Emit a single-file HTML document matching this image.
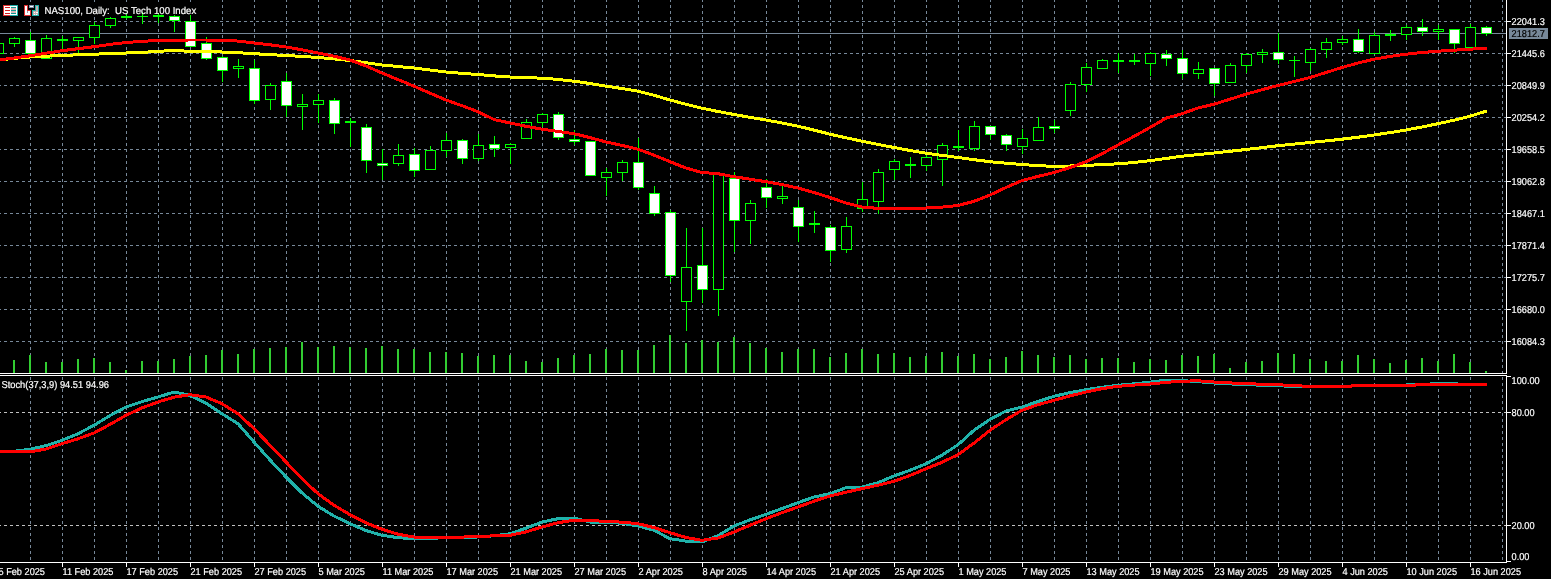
<!DOCTYPE html>
<html><head><meta charset="utf-8"><title>NAS100 Daily</title>
<style>html,body{margin:0;padding:0;background:#000;overflow:hidden}svg{display:block}</style>
</head><body>
<svg width="1551" height="579" viewBox="0 0 1551 579" shape-rendering="crispEdges">
<rect width="1551" height="579" fill="#000"/>
<g stroke="#778899" stroke-width="1" stroke-dasharray="3 3" fill="none">
<path d="M30.5 -1V373"/>
<path d="M30.5 371V562"/>
<path d="M62.5 -1V373"/>
<path d="M62.5 371V562"/>
<path d="M94.5 -1V373"/>
<path d="M94.5 371V562"/>
<path d="M126.5 -1V373"/>
<path d="M126.5 371V562"/>
<path d="M158.5 -1V373"/>
<path d="M158.5 371V562"/>
<path d="M190.5 -1V373"/>
<path d="M190.5 371V562"/>
<path d="M222.5 -1V373"/>
<path d="M222.5 371V562"/>
<path d="M254.5 -1V373"/>
<path d="M254.5 371V562"/>
<path d="M286.5 -1V373"/>
<path d="M286.5 371V562"/>
<path d="M318.5 -1V373"/>
<path d="M318.5 371V562"/>
<path d="M350.5 -1V373"/>
<path d="M350.5 371V562"/>
<path d="M382.5 -1V373"/>
<path d="M382.5 371V562"/>
<path d="M414.5 -1V373"/>
<path d="M414.5 371V562"/>
<path d="M446.5 -1V373"/>
<path d="M446.5 371V562"/>
<path d="M478.5 -1V373"/>
<path d="M478.5 371V562"/>
<path d="M510.5 -1V373"/>
<path d="M510.5 371V562"/>
<path d="M542.5 -1V373"/>
<path d="M542.5 371V562"/>
<path d="M574.5 -1V373"/>
<path d="M574.5 371V562"/>
<path d="M606.5 -1V373"/>
<path d="M606.5 371V562"/>
<path d="M638.5 -1V373"/>
<path d="M638.5 371V562"/>
<path d="M670.5 -1V373"/>
<path d="M670.5 371V562"/>
<path d="M702.5 -1V373"/>
<path d="M702.5 371V562"/>
<path d="M734.5 -1V373"/>
<path d="M734.5 371V562"/>
<path d="M766.5 -1V373"/>
<path d="M766.5 371V562"/>
<path d="M798.5 -1V373"/>
<path d="M798.5 371V562"/>
<path d="M830.5 -1V373"/>
<path d="M830.5 371V562"/>
<path d="M862.5 -1V373"/>
<path d="M862.5 371V562"/>
<path d="M894.5 -1V373"/>
<path d="M894.5 371V562"/>
<path d="M926.5 -1V373"/>
<path d="M926.5 371V562"/>
<path d="M958.5 -1V373"/>
<path d="M958.5 371V562"/>
<path d="M990.5 -1V373"/>
<path d="M990.5 371V562"/>
<path d="M1022.5 -1V373"/>
<path d="M1022.5 371V562"/>
<path d="M1054.5 -1V373"/>
<path d="M1054.5 371V562"/>
<path d="M1086.5 -1V373"/>
<path d="M1086.5 371V562"/>
<path d="M1118.5 -1V373"/>
<path d="M1118.5 371V562"/>
<path d="M1150.5 -1V373"/>
<path d="M1150.5 371V562"/>
<path d="M1182.5 -1V373"/>
<path d="M1182.5 371V562"/>
<path d="M1214.5 -1V373"/>
<path d="M1214.5 371V562"/>
<path d="M1246.5 -1V373"/>
<path d="M1246.5 371V562"/>
<path d="M1278.5 -1V373"/>
<path d="M1278.5 371V562"/>
<path d="M1310.5 -1V373"/>
<path d="M1310.5 371V562"/>
<path d="M1342.5 -1V373"/>
<path d="M1342.5 371V562"/>
<path d="M1374.5 -1V373"/>
<path d="M1374.5 371V562"/>
<path d="M1406.5 -1V373"/>
<path d="M1406.5 371V562"/>
<path d="M1438.5 -1V373"/>
<path d="M1438.5 371V562"/>
<path d="M1470.5 -1V373"/>
<path d="M1470.5 371V562"/>
<path d="M1502.5 -1V373"/>
<path d="M1502.5 371V562"/>
<path d="M-2 21.5H1506"/>
<path d="M-2 53.5H1506"/>
<path d="M-2 85.5H1506"/>
<path d="M-2 117.5H1506"/>
<path d="M-2 149.5H1506"/>
<path d="M-2 181.5H1506"/>
<path d="M-2 213.5H1506"/>
<path d="M-2 245.5H1506"/>
<path d="M-2 277.5H1506"/>
<path d="M-2 309.5H1506"/>
<path d="M-2 341.5H1506"/>
</g>
<g stroke="#c0c0c0" stroke-width="1" stroke-dasharray="3 3" fill="none">
<path d="M-2 412.5H1506"/>
<path d="M-2 525.5H1506"/>
</g>
<rect x="0" y="3" width="198" height="14" fill="#000"/>
<rect x="0" y="380" width="110" height="9" fill="#000"/>
<rect x="0" y="33" width="1506" height="1" fill="#778899"/>
<g fill="#32cd32">
<rect x="13" y="360" width="2" height="13"/>
<rect x="29" y="355" width="2" height="18"/>
<rect x="45" y="362" width="2" height="11"/>
<rect x="61" y="362" width="2" height="11"/>
<rect x="77" y="359" width="2" height="14"/>
<rect x="93" y="358" width="2" height="15"/>
<rect x="109" y="362" width="2" height="11"/>
<rect x="125" y="370" width="2" height="3"/>
<rect x="141" y="361" width="2" height="12"/>
<rect x="157" y="361" width="2" height="12"/>
<rect x="173" y="359" width="2" height="14"/>
<rect x="189" y="356" width="2" height="17"/>
<rect x="205" y="355" width="2" height="18"/>
<rect x="221" y="350" width="2" height="23"/>
<rect x="237" y="354" width="2" height="19"/>
<rect x="253" y="349" width="2" height="24"/>
<rect x="269" y="348" width="2" height="25"/>
<rect x="285" y="347" width="2" height="26"/>
<rect x="301" y="342" width="2" height="31"/>
<rect x="317" y="347" width="2" height="26"/>
<rect x="333" y="346" width="2" height="27"/>
<rect x="349" y="347" width="2" height="26"/>
<rect x="365" y="348" width="2" height="25"/>
<rect x="381" y="346" width="2" height="27"/>
<rect x="397" y="349" width="2" height="24"/>
<rect x="413" y="349" width="2" height="24"/>
<rect x="429" y="352" width="2" height="21"/>
<rect x="445" y="352" width="2" height="21"/>
<rect x="461" y="353" width="2" height="20"/>
<rect x="477" y="356" width="2" height="17"/>
<rect x="493" y="355" width="2" height="18"/>
<rect x="509" y="355" width="2" height="18"/>
<rect x="525" y="361" width="2" height="12"/>
<rect x="541" y="362" width="2" height="11"/>
<rect x="557" y="358" width="2" height="15"/>
<rect x="573" y="355" width="2" height="18"/>
<rect x="589" y="354" width="2" height="19"/>
<rect x="605" y="349" width="2" height="24"/>
<rect x="621" y="350" width="2" height="23"/>
<rect x="637" y="350" width="2" height="23"/>
<rect x="653" y="345" width="2" height="28"/>
<rect x="669" y="335" width="2" height="38"/>
<rect x="685" y="343" width="2" height="30"/>
<rect x="701" y="340" width="2" height="33"/>
<rect x="717" y="342" width="2" height="31"/>
<rect x="733" y="337" width="2" height="36"/>
<rect x="749" y="343" width="2" height="30"/>
<rect x="765" y="348" width="2" height="25"/>
<rect x="781" y="352" width="2" height="21"/>
<rect x="797" y="349" width="2" height="24"/>
<rect x="813" y="349" width="2" height="24"/>
<rect x="829" y="357" width="2" height="16"/>
<rect x="845" y="353" width="2" height="20"/>
<rect x="861" y="349" width="2" height="24"/>
<rect x="877" y="354" width="2" height="19"/>
<rect x="893" y="353" width="2" height="20"/>
<rect x="909" y="357" width="2" height="16"/>
<rect x="925" y="356" width="2" height="17"/>
<rect x="941" y="352" width="2" height="21"/>
<rect x="957" y="356" width="2" height="17"/>
<rect x="973" y="354" width="2" height="19"/>
<rect x="989" y="359" width="2" height="14"/>
<rect x="1005" y="357" width="2" height="16"/>
<rect x="1021" y="351" width="2" height="22"/>
<rect x="1037" y="355" width="2" height="18"/>
<rect x="1053" y="357" width="2" height="16"/>
<rect x="1069" y="355" width="2" height="18"/>
<rect x="1085" y="359" width="2" height="14"/>
<rect x="1101" y="358" width="2" height="15"/>
<rect x="1117" y="358" width="2" height="15"/>
<rect x="1133" y="362" width="2" height="11"/>
<rect x="1149" y="359" width="2" height="14"/>
<rect x="1165" y="360" width="2" height="13"/>
<rect x="1181" y="355" width="2" height="18"/>
<rect x="1197" y="356" width="2" height="17"/>
<rect x="1213" y="354" width="2" height="19"/>
<rect x="1229" y="368" width="2" height="5"/>
<rect x="1245" y="362" width="2" height="11"/>
<rect x="1261" y="361" width="2" height="12"/>
<rect x="1277" y="353" width="2" height="20"/>
<rect x="1293" y="354" width="2" height="19"/>
<rect x="1309" y="359" width="2" height="14"/>
<rect x="1325" y="361" width="2" height="12"/>
<rect x="1341" y="361" width="2" height="12"/>
<rect x="1357" y="355" width="2" height="18"/>
<rect x="1373" y="359" width="2" height="14"/>
<rect x="1389" y="363" width="2" height="10"/>
<rect x="1405" y="360" width="2" height="13"/>
<rect x="1421" y="358" width="2" height="15"/>
<rect x="1437" y="361" width="2" height="12"/>
<rect x="1453" y="354" width="2" height="19"/>
<rect x="1469" y="362" width="2" height="11"/>
<rect x="1485" y="371" width="2" height="2"/>
</g>
<g>
<rect x="-2" y="43" width="1" height="11" fill="#00ff00"/>
<rect x="-7" y="43" width="11" height="11" fill="#00ff00"/>
<rect x="-6" y="44" width="9" height="9" fill="#000"/>
<rect x="14" y="37" width="1" height="10" fill="#00ff00"/>
<rect x="9" y="38" width="11" height="6" fill="#00ff00"/>
<rect x="10" y="39" width="9" height="4" fill="#000"/>
<rect x="30" y="32" width="1" height="22" fill="#00ff00"/>
<rect x="25" y="40" width="11" height="14" fill="#00ff00"/>
<rect x="26" y="41" width="9" height="12" fill="#fff"/>
<rect x="46" y="35" width="1" height="24" fill="#00ff00"/>
<rect x="41" y="38" width="11" height="21" fill="#00ff00"/>
<rect x="42" y="39" width="9" height="19" fill="#000"/>
<rect x="62" y="36" width="1" height="13" fill="#00ff00"/>
<rect x="57" y="39" width="11" height="2" fill="#00ff00"/>
<rect x="78" y="37" width="1" height="16" fill="#00ff00"/>
<rect x="73" y="37" width="11" height="4" fill="#00ff00"/>
<rect x="74" y="38" width="9" height="2" fill="#000"/>
<rect x="94" y="22" width="1" height="22" fill="#00ff00"/>
<rect x="89" y="25" width="11" height="13" fill="#00ff00"/>
<rect x="90" y="26" width="9" height="11" fill="#000"/>
<rect x="110" y="17" width="1" height="11" fill="#00ff00"/>
<rect x="105" y="18" width="11" height="8" fill="#00ff00"/>
<rect x="106" y="19" width="9" height="6" fill="#000"/>
<rect x="126" y="14" width="1" height="5" fill="#00ff00"/>
<rect x="121" y="16" width="11" height="2" fill="#00ff00"/>
<rect x="142" y="12" width="1" height="12" fill="#00ff00"/>
<rect x="137" y="16" width="11" height="1" fill="#00ff00"/>
<rect x="158" y="13" width="1" height="10" fill="#00ff00"/>
<rect x="153" y="15" width="11" height="2" fill="#00ff00"/>
<rect x="174" y="15" width="1" height="17" fill="#00ff00"/>
<rect x="169" y="16" width="11" height="5" fill="#00ff00"/>
<rect x="170" y="17" width="9" height="3" fill="#fff"/>
<rect x="190" y="15" width="1" height="31" fill="#00ff00"/>
<rect x="185" y="21" width="11" height="26" fill="#00ff00"/>
<rect x="186" y="22" width="9" height="24" fill="#fff"/>
<rect x="206" y="37" width="1" height="23" fill="#00ff00"/>
<rect x="201" y="43" width="11" height="16" fill="#00ff00"/>
<rect x="202" y="44" width="9" height="14" fill="#fff"/>
<rect x="222" y="56" width="1" height="26" fill="#00ff00"/>
<rect x="217" y="57" width="11" height="14" fill="#00ff00"/>
<rect x="218" y="58" width="9" height="12" fill="#fff"/>
<rect x="238" y="59" width="1" height="19" fill="#00ff00"/>
<rect x="233" y="66" width="11" height="3" fill="#00ff00"/>
<rect x="234" y="67" width="9" height="1" fill="#000"/>
<rect x="254" y="60" width="1" height="44" fill="#00ff00"/>
<rect x="249" y="68" width="11" height="33" fill="#00ff00"/>
<rect x="250" y="69" width="9" height="31" fill="#fff"/>
<rect x="270" y="83" width="1" height="27" fill="#00ff00"/>
<rect x="265" y="85" width="11" height="15" fill="#00ff00"/>
<rect x="266" y="86" width="9" height="13" fill="#000"/>
<rect x="286" y="73" width="1" height="44" fill="#00ff00"/>
<rect x="281" y="81" width="11" height="25" fill="#00ff00"/>
<rect x="282" y="82" width="9" height="23" fill="#fff"/>
<rect x="302" y="94" width="1" height="36" fill="#00ff00"/>
<rect x="297" y="104" width="11" height="3" fill="#00ff00"/>
<rect x="298" y="105" width="9" height="1" fill="#000"/>
<rect x="318" y="94" width="1" height="29" fill="#00ff00"/>
<rect x="313" y="100" width="11" height="5" fill="#00ff00"/>
<rect x="314" y="101" width="9" height="3" fill="#000"/>
<rect x="334" y="98" width="1" height="36" fill="#00ff00"/>
<rect x="329" y="100" width="11" height="24" fill="#00ff00"/>
<rect x="330" y="101" width="9" height="22" fill="#fff"/>
<rect x="350" y="118" width="1" height="29" fill="#00ff00"/>
<rect x="345" y="121" width="11" height="2" fill="#00ff00"/>
<rect x="366" y="124" width="1" height="49" fill="#00ff00"/>
<rect x="361" y="127" width="11" height="34" fill="#00ff00"/>
<rect x="362" y="128" width="9" height="32" fill="#fff"/>
<rect x="382" y="149" width="1" height="31" fill="#00ff00"/>
<rect x="377" y="163" width="11" height="3" fill="#00ff00"/>
<rect x="378" y="164" width="9" height="1" fill="#fff"/>
<rect x="398" y="144" width="1" height="22" fill="#00ff00"/>
<rect x="393" y="155" width="11" height="9" fill="#00ff00"/>
<rect x="394" y="156" width="9" height="7" fill="#000"/>
<rect x="414" y="148" width="1" height="29" fill="#00ff00"/>
<rect x="409" y="154" width="11" height="17" fill="#00ff00"/>
<rect x="410" y="155" width="9" height="15" fill="#fff"/>
<rect x="430" y="146" width="1" height="23" fill="#00ff00"/>
<rect x="425" y="150" width="11" height="20" fill="#00ff00"/>
<rect x="426" y="151" width="9" height="18" fill="#000"/>
<rect x="446" y="133" width="1" height="24" fill="#00ff00"/>
<rect x="441" y="140" width="11" height="11" fill="#00ff00"/>
<rect x="442" y="141" width="9" height="9" fill="#000"/>
<rect x="462" y="139" width="1" height="25" fill="#00ff00"/>
<rect x="457" y="140" width="11" height="19" fill="#00ff00"/>
<rect x="458" y="141" width="9" height="17" fill="#fff"/>
<rect x="478" y="134" width="1" height="27" fill="#00ff00"/>
<rect x="473" y="145" width="11" height="14" fill="#00ff00"/>
<rect x="474" y="146" width="9" height="12" fill="#000"/>
<rect x="494" y="136" width="1" height="21" fill="#00ff00"/>
<rect x="489" y="144" width="11" height="5" fill="#00ff00"/>
<rect x="490" y="145" width="9" height="3" fill="#fff"/>
<rect x="510" y="143" width="1" height="21" fill="#00ff00"/>
<rect x="505" y="144" width="11" height="4" fill="#00ff00"/>
<rect x="506" y="145" width="9" height="2" fill="#000"/>
<rect x="526" y="119" width="1" height="20" fill="#00ff00"/>
<rect x="521" y="122" width="11" height="17" fill="#00ff00"/>
<rect x="522" y="123" width="9" height="15" fill="#000"/>
<rect x="542" y="113" width="1" height="14" fill="#00ff00"/>
<rect x="537" y="114" width="11" height="9" fill="#00ff00"/>
<rect x="538" y="115" width="9" height="7" fill="#000"/>
<rect x="558" y="112" width="1" height="28" fill="#00ff00"/>
<rect x="553" y="114" width="11" height="24" fill="#00ff00"/>
<rect x="554" y="115" width="9" height="22" fill="#fff"/>
<rect x="574" y="130" width="1" height="15" fill="#00ff00"/>
<rect x="569" y="139" width="11" height="3" fill="#00ff00"/>
<rect x="570" y="140" width="9" height="1" fill="#fff"/>
<rect x="590" y="141" width="1" height="34" fill="#00ff00"/>
<rect x="585" y="141" width="11" height="35" fill="#00ff00"/>
<rect x="586" y="142" width="9" height="33" fill="#fff"/>
<rect x="606" y="168" width="1" height="28" fill="#00ff00"/>
<rect x="601" y="172" width="11" height="6" fill="#00ff00"/>
<rect x="602" y="173" width="9" height="4" fill="#000"/>
<rect x="622" y="160" width="1" height="21" fill="#00ff00"/>
<rect x="617" y="162" width="11" height="11" fill="#00ff00"/>
<rect x="618" y="163" width="9" height="9" fill="#000"/>
<rect x="638" y="138" width="1" height="52" fill="#00ff00"/>
<rect x="633" y="162" width="11" height="26" fill="#00ff00"/>
<rect x="634" y="163" width="9" height="24" fill="#fff"/>
<rect x="654" y="186" width="1" height="30" fill="#00ff00"/>
<rect x="649" y="193" width="11" height="21" fill="#00ff00"/>
<rect x="650" y="194" width="9" height="19" fill="#fff"/>
<rect x="670" y="210" width="1" height="72" fill="#00ff00"/>
<rect x="665" y="212" width="11" height="64" fill="#00ff00"/>
<rect x="666" y="213" width="9" height="62" fill="#fff"/>
<rect x="686" y="228" width="1" height="103" fill="#00ff00"/>
<rect x="681" y="267" width="11" height="35" fill="#00ff00"/>
<rect x="682" y="268" width="9" height="33" fill="#000"/>
<rect x="702" y="228" width="1" height="75" fill="#00ff00"/>
<rect x="697" y="265" width="11" height="25" fill="#00ff00"/>
<rect x="698" y="266" width="9" height="23" fill="#fff"/>
<rect x="718" y="173" width="1" height="143" fill="#00ff00"/>
<rect x="713" y="173" width="11" height="117" fill="#00ff00"/>
<rect x="714" y="174" width="9" height="115" fill="#000"/>
<rect x="734" y="172" width="1" height="80" fill="#00ff00"/>
<rect x="729" y="178" width="11" height="43" fill="#00ff00"/>
<rect x="730" y="179" width="9" height="41" fill="#fff"/>
<rect x="750" y="200" width="1" height="44" fill="#00ff00"/>
<rect x="745" y="203" width="11" height="18" fill="#00ff00"/>
<rect x="746" y="204" width="9" height="16" fill="#000"/>
<rect x="766" y="179" width="1" height="29" fill="#00ff00"/>
<rect x="761" y="187" width="11" height="11" fill="#00ff00"/>
<rect x="762" y="188" width="9" height="9" fill="#fff"/>
<rect x="782" y="186" width="1" height="18" fill="#00ff00"/>
<rect x="777" y="196" width="11" height="3" fill="#00ff00"/>
<rect x="778" y="197" width="9" height="1" fill="#000"/>
<rect x="798" y="200" width="1" height="42" fill="#00ff00"/>
<rect x="793" y="207" width="11" height="20" fill="#00ff00"/>
<rect x="794" y="208" width="9" height="18" fill="#fff"/>
<rect x="814" y="211" width="1" height="22" fill="#00ff00"/>
<rect x="809" y="223" width="11" height="2" fill="#00ff00"/>
<rect x="830" y="225" width="1" height="37" fill="#00ff00"/>
<rect x="825" y="227" width="11" height="24" fill="#00ff00"/>
<rect x="826" y="228" width="9" height="22" fill="#fff"/>
<rect x="846" y="217" width="1" height="36" fill="#00ff00"/>
<rect x="841" y="226" width="11" height="24" fill="#00ff00"/>
<rect x="842" y="227" width="9" height="22" fill="#000"/>
<rect x="862" y="182" width="1" height="30" fill="#00ff00"/>
<rect x="857" y="199" width="11" height="10" fill="#00ff00"/>
<rect x="858" y="200" width="9" height="8" fill="#000"/>
<rect x="878" y="169" width="1" height="45" fill="#00ff00"/>
<rect x="873" y="172" width="11" height="30" fill="#00ff00"/>
<rect x="874" y="173" width="9" height="28" fill="#000"/>
<rect x="894" y="159" width="1" height="21" fill="#00ff00"/>
<rect x="889" y="161" width="11" height="9" fill="#00ff00"/>
<rect x="890" y="162" width="9" height="7" fill="#000"/>
<rect x="910" y="157" width="1" height="21" fill="#00ff00"/>
<rect x="905" y="164" width="11" height="2" fill="#00ff00"/>
<rect x="926" y="153" width="1" height="18" fill="#00ff00"/>
<rect x="921" y="157" width="11" height="9" fill="#00ff00"/>
<rect x="922" y="158" width="9" height="7" fill="#000"/>
<rect x="942" y="143" width="1" height="43" fill="#00ff00"/>
<rect x="937" y="145" width="11" height="15" fill="#00ff00"/>
<rect x="938" y="146" width="9" height="13" fill="#000"/>
<rect x="958" y="130" width="1" height="21" fill="#00ff00"/>
<rect x="953" y="146" width="11" height="2" fill="#00ff00"/>
<rect x="974" y="121" width="1" height="30" fill="#00ff00"/>
<rect x="969" y="126" width="11" height="23" fill="#00ff00"/>
<rect x="970" y="127" width="9" height="21" fill="#000"/>
<rect x="990" y="126" width="1" height="14" fill="#00ff00"/>
<rect x="985" y="126" width="11" height="9" fill="#00ff00"/>
<rect x="986" y="127" width="9" height="7" fill="#fff"/>
<rect x="1006" y="134" width="1" height="17" fill="#00ff00"/>
<rect x="1001" y="135" width="11" height="10" fill="#00ff00"/>
<rect x="1002" y="136" width="9" height="8" fill="#fff"/>
<rect x="1022" y="129" width="1" height="25" fill="#00ff00"/>
<rect x="1017" y="138" width="11" height="9" fill="#00ff00"/>
<rect x="1018" y="139" width="9" height="7" fill="#000"/>
<rect x="1038" y="117" width="1" height="24" fill="#00ff00"/>
<rect x="1033" y="127" width="11" height="14" fill="#00ff00"/>
<rect x="1034" y="128" width="9" height="12" fill="#000"/>
<rect x="1054" y="120" width="1" height="13" fill="#00ff00"/>
<rect x="1049" y="126" width="11" height="3" fill="#00ff00"/>
<rect x="1050" y="127" width="9" height="1" fill="#fff"/>
<rect x="1070" y="82" width="1" height="34" fill="#00ff00"/>
<rect x="1065" y="84" width="11" height="27" fill="#00ff00"/>
<rect x="1066" y="85" width="9" height="25" fill="#000"/>
<rect x="1086" y="63" width="1" height="29" fill="#00ff00"/>
<rect x="1081" y="67" width="11" height="18" fill="#00ff00"/>
<rect x="1082" y="68" width="9" height="16" fill="#000"/>
<rect x="1102" y="59" width="1" height="10" fill="#00ff00"/>
<rect x="1097" y="60" width="11" height="9" fill="#00ff00"/>
<rect x="1098" y="61" width="9" height="7" fill="#000"/>
<rect x="1118" y="53" width="1" height="20" fill="#00ff00"/>
<rect x="1113" y="60" width="11" height="2" fill="#00ff00"/>
<rect x="1134" y="54" width="1" height="11" fill="#00ff00"/>
<rect x="1129" y="60" width="11" height="2" fill="#00ff00"/>
<rect x="1150" y="52" width="1" height="24" fill="#00ff00"/>
<rect x="1145" y="53" width="11" height="11" fill="#00ff00"/>
<rect x="1146" y="54" width="9" height="9" fill="#000"/>
<rect x="1166" y="50" width="1" height="16" fill="#00ff00"/>
<rect x="1161" y="54" width="11" height="5" fill="#00ff00"/>
<rect x="1162" y="55" width="9" height="3" fill="#fff"/>
<rect x="1182" y="50" width="1" height="29" fill="#00ff00"/>
<rect x="1177" y="58" width="11" height="16" fill="#00ff00"/>
<rect x="1178" y="59" width="9" height="14" fill="#fff"/>
<rect x="1198" y="62" width="1" height="17" fill="#00ff00"/>
<rect x="1193" y="69" width="11" height="5" fill="#00ff00"/>
<rect x="1194" y="70" width="9" height="3" fill="#000"/>
<rect x="1214" y="68" width="1" height="28" fill="#00ff00"/>
<rect x="1209" y="68" width="11" height="16" fill="#00ff00"/>
<rect x="1210" y="69" width="9" height="14" fill="#fff"/>
<rect x="1230" y="63" width="1" height="20" fill="#00ff00"/>
<rect x="1225" y="65" width="11" height="18" fill="#00ff00"/>
<rect x="1226" y="66" width="9" height="16" fill="#000"/>
<rect x="1246" y="53" width="1" height="20" fill="#00ff00"/>
<rect x="1241" y="54" width="11" height="12" fill="#00ff00"/>
<rect x="1242" y="55" width="9" height="10" fill="#000"/>
<rect x="1262" y="49" width="1" height="14" fill="#00ff00"/>
<rect x="1257" y="52" width="11" height="3" fill="#00ff00"/>
<rect x="1258" y="53" width="9" height="1" fill="#000"/>
<rect x="1278" y="33" width="1" height="31" fill="#00ff00"/>
<rect x="1273" y="52" width="11" height="8" fill="#00ff00"/>
<rect x="1274" y="53" width="9" height="6" fill="#fff"/>
<rect x="1294" y="56" width="1" height="21" fill="#00ff00"/>
<rect x="1289" y="60" width="11" height="1" fill="#00ff00"/>
<rect x="1310" y="48" width="1" height="23" fill="#00ff00"/>
<rect x="1305" y="49" width="11" height="14" fill="#00ff00"/>
<rect x="1306" y="50" width="9" height="12" fill="#000"/>
<rect x="1326" y="38" width="1" height="20" fill="#00ff00"/>
<rect x="1321" y="42" width="11" height="8" fill="#00ff00"/>
<rect x="1322" y="43" width="9" height="6" fill="#000"/>
<rect x="1342" y="36" width="1" height="9" fill="#00ff00"/>
<rect x="1337" y="39" width="11" height="4" fill="#00ff00"/>
<rect x="1338" y="40" width="9" height="2" fill="#000"/>
<rect x="1358" y="29" width="1" height="24" fill="#00ff00"/>
<rect x="1353" y="39" width="11" height="13" fill="#00ff00"/>
<rect x="1354" y="40" width="9" height="11" fill="#fff"/>
<rect x="1374" y="32" width="1" height="22" fill="#00ff00"/>
<rect x="1369" y="35" width="11" height="19" fill="#00ff00"/>
<rect x="1370" y="36" width="9" height="17" fill="#000"/>
<rect x="1390" y="30" width="1" height="11" fill="#00ff00"/>
<rect x="1385" y="34" width="11" height="2" fill="#00ff00"/>
<rect x="1406" y="25" width="1" height="15" fill="#00ff00"/>
<rect x="1401" y="27" width="11" height="8" fill="#00ff00"/>
<rect x="1402" y="28" width="9" height="6" fill="#000"/>
<rect x="1422" y="19" width="1" height="17" fill="#00ff00"/>
<rect x="1417" y="27" width="11" height="5" fill="#00ff00"/>
<rect x="1418" y="28" width="9" height="3" fill="#fff"/>
<rect x="1438" y="25" width="1" height="15" fill="#00ff00"/>
<rect x="1433" y="29" width="11" height="3" fill="#00ff00"/>
<rect x="1434" y="30" width="9" height="1" fill="#000"/>
<rect x="1454" y="29" width="1" height="24" fill="#00ff00"/>
<rect x="1449" y="29" width="11" height="15" fill="#00ff00"/>
<rect x="1450" y="30" width="9" height="13" fill="#fff"/>
<rect x="1470" y="24" width="1" height="24" fill="#00ff00"/>
<rect x="1465" y="27" width="11" height="21" fill="#00ff00"/>
<rect x="1466" y="28" width="9" height="19" fill="#000"/>
<rect x="1486" y="26" width="1" height="10" fill="#00ff00"/>
<rect x="1481" y="27" width="11" height="7" fill="#00ff00"/>
<rect x="1482" y="28" width="9" height="5" fill="#fff"/>
</g>
<polyline points="-2.0,60.2 14.0,58.3 30.0,57.0 46.0,56.2 62.0,55.5 78.0,54.8 94.0,54.2 110.0,53.6 126.0,53.0 142.0,52.3 158.0,51.5 174.0,50.2 190.0,51.5 206.0,51.8 222.0,52.0 238.0,52.7 254.0,53.7 270.0,54.6 286.0,55.5 302.0,56.4 318.0,57.5 334.0,58.9 350.0,60.5 366.0,62.7 382.0,65.0 398.0,66.5 414.0,68.0 430.0,70.0 446.0,72.0 462.0,73.3 478.0,74.5 494.0,75.9 510.0,77.0 526.0,77.6 542.0,78.2 558.0,79.4 574.0,81.2 590.0,83.5 606.0,86.2 622.0,88.5 638.0,91.2 654.0,95.3 670.0,100.0 686.0,104.3 702.0,108.2 718.0,111.5 734.0,114.5 750.0,117.3 766.0,120.0 782.0,123.0 798.0,126.2 814.0,130.1 830.0,134.2 846.0,137.8 862.0,141.2 878.0,144.4 894.0,147.5 910.0,150.5 926.0,153.2 942.0,155.4 958.0,157.5 974.0,159.7 990.0,161.7 1006.0,163.2 1022.0,164.5 1038.0,165.7 1054.0,166.3 1070.0,166.0 1086.0,165.3 1102.0,164.7 1118.0,163.8 1134.0,162.5 1150.0,160.7 1166.0,158.5 1182.0,156.2 1198.0,154.6 1214.0,153.0 1230.0,151.3 1246.0,149.5 1262.0,147.6 1278.0,145.7 1294.0,144.1 1310.0,142.5 1326.0,140.9 1342.0,139.2 1358.0,137.2 1374.0,135.0 1390.0,132.6 1406.0,130.0 1422.0,127.0 1438.0,123.7 1454.0,120.2 1470.0,116.2 1486.0,111.2" fill="none" stroke="#ffff00" stroke-width="3" stroke-linejoin="round" stroke-linecap="round"/>
<polyline points="-2.0,60.0 14.0,58.0 30.0,55.8 46.0,53.2 62.0,50.7 78.0,48.7 94.0,46.7 110.0,44.4 126.0,42.5 142.0,41.3 158.0,40.5 174.0,40.1 190.0,40.0 206.0,40.0 222.0,40.0 238.0,41.1 254.0,43.0 270.0,44.8 286.0,47.0 302.0,49.8 318.0,53.0 334.0,56.2 350.0,60.0 366.0,66.0 382.0,73.0 398.0,79.6 414.0,86.2 430.0,93.2 446.0,100.0 462.0,105.7 478.0,111.7 494.0,119.5 510.0,123.0 526.0,126.3 542.0,129.2 558.0,131.4 574.0,133.7 590.0,137.6 606.0,142.0 622.0,145.4 638.0,149.2 654.0,155.1 670.0,161.7 686.0,168.1 702.0,172.5 718.0,173.7 734.0,176.7 750.0,179.2 766.0,181.7 782.0,184.6 798.0,188.0 814.0,192.5 830.0,197.5 846.0,203.0 862.0,207.0 878.0,208.4 894.0,209.0 910.0,208.7 926.0,208.0 942.0,207.1 958.0,205.5 974.0,201.3 990.0,195.0 1006.0,187.5 1022.0,180.5 1038.0,176.4 1054.0,172.5 1070.0,167.6 1086.0,161.7 1102.0,153.8 1118.0,145.0 1134.0,136.4 1150.0,127.5 1166.0,118.2 1182.0,113.7 1198.0,108.0 1214.0,104.2 1230.0,99.2 1246.0,94.2 1262.0,89.7 1278.0,85.5 1294.0,81.6 1310.0,77.5 1326.0,72.5 1342.0,67.5 1358.0,63.0 1374.0,59.2 1390.0,56.4 1406.0,54.2 1422.0,52.5 1438.0,51.2 1454.0,50.2 1470.0,49.2 1486.0,48.2" fill="none" stroke="#ff0000" stroke-width="3" stroke-linejoin="round" stroke-linecap="round"/>
<polyline points="-2.0,452.0 14.0,451.2 30.0,449.3 46.0,445.6 62.0,440.3 78.0,433.7 94.0,425.3 110.0,415.6 126.0,407.0 142.0,401.6 158.0,397.0 174.0,392.0 190.0,395.3 206.0,403.2 222.0,413.7 238.0,423.7 254.0,442.0 270.0,460.0 286.0,477.0 302.0,492.9 318.0,506.3 334.0,516.0 350.0,523.7 366.0,530.6 382.0,535.3 398.0,537.7 414.0,538.7 430.0,538.3 446.0,537.7 462.0,537.4 478.0,537.0 494.0,535.8 510.0,533.7 526.0,528.2 542.0,522.0 558.0,518.7 574.0,518.0 590.0,522.0 606.0,522.0 622.0,523.3 638.0,526.0 654.0,530.3 670.0,538.7 686.0,541.1 702.0,542.0 718.0,535.7 734.0,526.0 750.0,519.9 766.0,514.3 782.0,508.5 798.0,502.7 814.0,497.0 830.0,493.7 846.0,487.7 862.0,487.0 878.0,482.7 894.0,476.0 910.0,470.3 926.0,463.7 942.0,455.3 958.0,444.7 974.0,430.3 990.0,419.3 1006.0,411.0 1022.0,407.0 1038.0,401.5 1054.0,396.3 1070.0,392.6 1086.0,389.7 1102.0,387.3 1118.0,385.3 1134.0,383.8 1150.0,382.2 1166.0,380.0 1182.0,380.6 1198.0,381.7 1214.0,383.0 1230.0,383.9 1246.0,384.7 1262.0,385.2 1278.0,385.7 1294.0,386.5 1310.0,387.0 1326.0,386.8 1342.0,386.3 1358.0,385.8 1374.0,385.3 1390.0,385.2 1406.0,385.0 1422.0,384.3 1438.0,383.7 1454.0,383.9 1470.0,384.3 1486.0,385.0" fill="none" stroke="#20b2aa" stroke-width="3" stroke-linejoin="round" stroke-linecap="round"/>
<polyline points="-2.0,451.0 14.0,451.9 30.0,452.0 46.0,449.0 62.0,443.7 78.0,438.8 94.0,433.0 110.0,424.4 126.0,415.3 142.0,407.9 158.0,402.0 174.0,397.2 190.0,394.7 206.0,397.0 222.0,403.7 238.0,413.7 254.0,428.7 270.0,445.2 286.0,462.0 302.0,478.8 318.0,493.7 334.0,505.2 350.0,514.7 366.0,522.9 382.0,529.3 398.0,534.2 414.0,537.0 430.0,537.5 446.0,537.7 462.0,537.1 478.0,536.3 494.0,535.9 510.0,535.3 526.0,531.9 542.0,527.0 558.0,522.7 574.0,520.3 590.0,520.6 606.0,521.3 622.0,522.2 638.0,523.7 654.0,527.6 670.0,532.7 686.0,537.5 702.0,540.3 718.0,538.0 734.0,532.0 750.0,525.3 766.0,518.7 782.0,512.7 798.0,507.0 814.0,501.2 830.0,496.0 846.0,492.2 862.0,488.7 878.0,485.2 894.0,481.3 910.0,475.5 926.0,468.7 942.0,462.3 958.0,454.7 974.0,443.1 990.0,430.3 1006.0,419.7 1022.0,410.3 1038.0,404.7 1054.0,400.3 1070.0,395.9 1086.0,392.0 1102.0,388.7 1118.0,386.3 1134.0,385.1 1150.0,384.0 1166.0,382.4 1182.0,381.2 1198.0,380.8 1214.0,382.0 1230.0,382.9 1246.0,383.7 1262.0,384.2 1278.0,384.7 1294.0,385.7 1310.0,386.3 1326.0,386.3 1342.0,386.3 1358.0,385.8 1374.0,385.3 1390.0,385.3 1406.0,385.3 1422.0,384.8 1438.0,384.3 1454.0,384.5 1470.0,384.7 1486.0,384.7" fill="none" stroke="#ff0000" stroke-width="3" stroke-linejoin="round" stroke-linecap="round"/>
<g fill="#fff">
<rect x="0" y="373" width="1507" height="1"/>
<rect x="0" y="375" width="1507" height="1"/>
<rect x="1506" y="0" width="1" height="374"/>
<rect x="1506" y="375" width="1" height="188"/>
<rect x="0" y="562" width="1507" height="1"/>
<rect x="1507" y="21" width="4" height="1"/>
<rect x="1507" y="53" width="4" height="1"/>
<rect x="1507" y="85" width="4" height="1"/>
<rect x="1507" y="117" width="4" height="1"/>
<rect x="1507" y="149" width="4" height="1"/>
<rect x="1507" y="181" width="4" height="1"/>
<rect x="1507" y="213" width="4" height="1"/>
<rect x="1507" y="245" width="4" height="1"/>
<rect x="1507" y="277" width="4" height="1"/>
<rect x="1507" y="309" width="4" height="1"/>
<rect x="1507" y="341" width="4" height="1"/>
<rect x="1507" y="376" width="4" height="1"/>
<rect x="1507" y="412" width="4" height="1"/>
<rect x="1507" y="525" width="4" height="1"/>
<rect x="1507" y="561" width="4" height="1"/>
<rect x="62" y="563" width="1" height="4"/>
<rect x="126" y="563" width="1" height="4"/>
<rect x="190" y="563" width="1" height="4"/>
<rect x="254" y="563" width="1" height="4"/>
<rect x="318" y="563" width="1" height="4"/>
<rect x="382" y="563" width="1" height="4"/>
<rect x="446" y="563" width="1" height="4"/>
<rect x="510" y="563" width="1" height="4"/>
<rect x="574" y="563" width="1" height="4"/>
<rect x="638" y="563" width="1" height="4"/>
<rect x="702" y="563" width="1" height="4"/>
<rect x="766" y="563" width="1" height="4"/>
<rect x="830" y="563" width="1" height="4"/>
<rect x="894" y="563" width="1" height="4"/>
<rect x="958" y="563" width="1" height="4"/>
<rect x="1022" y="563" width="1" height="4"/>
<rect x="1086" y="563" width="1" height="4"/>
<rect x="1150" y="563" width="1" height="4"/>
<rect x="1214" y="563" width="1" height="4"/>
<rect x="1278" y="563" width="1" height="4"/>
<rect x="1342" y="563" width="1" height="4"/>
<rect x="1406" y="563" width="1" height="4"/>
<rect x="1470" y="563" width="1" height="4"/>
</g>
<rect x="1509" y="28" width="39" height="11" fill="#778899"/>
<g font-family='"Liberation Sans", sans-serif' font-size="10" fill="#fff" stroke="#fff" stroke-width="0.2" text-rendering="geometricPrecision">
<text transform="translate(1511.6 25) scale(0.918 1)">22041.3</text>
<text transform="translate(1511.6 57) scale(0.918 1)">21445.6</text>
<text transform="translate(1511.6 89) scale(0.918 1)">20849.9</text>
<text transform="translate(1511.6 121) scale(0.918 1)">20254.2</text>
<text transform="translate(1511.6 153) scale(0.918 1)">19658.5</text>
<text transform="translate(1511.6 185) scale(0.918 1)">19062.8</text>
<text transform="translate(1511.6 217) scale(0.918 1)">18467.1</text>
<text transform="translate(1511.6 249) scale(0.918 1)">17871.4</text>
<text transform="translate(1511.6 281) scale(0.918 1)">17275.7</text>
<text transform="translate(1511.6 313) scale(0.918 1)">16680.0</text>
<text transform="translate(1511.6 345) scale(0.918 1)">16084.3</text>
<text transform="translate(1511.6 37) scale(0.918 1)" fill="#000" stroke="#000">21812.7</text>
<text transform="translate(1511.6 384) scale(0.918 1)">100.00</text>
<text transform="translate(1511.6 416) scale(0.918 1)">80.00</text>
<text transform="translate(1511.6 529) scale(0.918 1)">20.00</text>
<text transform="translate(1511.6 560) scale(0.918 1)">0.00</text>
<text transform="translate(-1.5 575) scale(0.918 1)">5 Feb 2025</text>
<text transform="translate(62.5 575) scale(0.918 1)">11 Feb 2025</text>
<text transform="translate(126.5 575) scale(0.918 1)">17 Feb 2025</text>
<text transform="translate(190.5 575) scale(0.918 1)">21 Feb 2025</text>
<text transform="translate(254.5 575) scale(0.918 1)">27 Feb 2025</text>
<text transform="translate(318.5 575) scale(0.918 1)">5 Mar 2025</text>
<text transform="translate(382.5 575) scale(0.918 1)">11 Mar 2025</text>
<text transform="translate(446.5 575) scale(0.918 1)">17 Mar 2025</text>
<text transform="translate(510.5 575) scale(0.918 1)">21 Mar 2025</text>
<text transform="translate(574.5 575) scale(0.918 1)">27 Mar 2025</text>
<text transform="translate(638.5 575) scale(0.918 1)">2 Apr 2025</text>
<text transform="translate(702.5 575) scale(0.918 1)">8 Apr 2025</text>
<text transform="translate(766.5 575) scale(0.918 1)">14 Apr 2025</text>
<text transform="translate(830.5 575) scale(0.918 1)">21 Apr 2025</text>
<text transform="translate(894.5 575) scale(0.918 1)">25 Apr 2025</text>
<text transform="translate(958.5 575) scale(0.918 1)">1 May 2025</text>
<text transform="translate(1022.5 575) scale(0.918 1)">7 May 2025</text>
<text transform="translate(1086.5 575) scale(0.918 1)">13 May 2025</text>
<text transform="translate(1150.5 575) scale(0.918 1)">19 May 2025</text>
<text transform="translate(1214.5 575) scale(0.918 1)">23 May 2025</text>
<text transform="translate(1278.5 575) scale(0.918 1)">29 May 2025</text>
<text transform="translate(1342.5 575) scale(0.918 1)">4 Jun 2025</text>
<text transform="translate(1406.5 575) scale(0.918 1)">10 Jun 2025</text>
<text transform="translate(1470.5 575) scale(0.918 1)">16 Jun 2025</text>
<text transform="translate(44.5 14) scale(0.962 1)">NAS100, Daily:&#160; US Tech 100 Index</text>
<text transform="translate(1.5 388) scale(0.93 1)">Stoch(37,3,9) 94.51 94.96</text>
</g>
<g>
<rect x="3" y="5" width="7" height="11" fill="#e03030"/><rect x="10" y="5" width="8" height="11" fill="#20b0a8"/>
<rect x="4" y="6" width="13" height="9" fill="#fff"/>
<rect x="5" y="7" width="5" height="1" fill="#d02020"/><rect x="5" y="10" width="5" height="1" fill="#d02020"/><rect x="5" y="13" width="5" height="1" fill="#d02020"/>
<rect x="11" y="7" width="5" height="7" fill="#d8b8b8"/>
<rect x="11" y="7" width="5" height="1" fill="#109890"/><rect x="11" y="10" width="5" height="1" fill="#109890"/><rect x="11" y="13" width="5" height="1" fill="#109890"/>
<path d="M24 5h4v5h3v6h-7z" fill="#e03030"/><path d="M25 6h2v5h3v4h-5z" fill="#fff"/><rect x="27" y="11" width="1" height="2" fill="#99a"/>
<path d="M35 5h4v11h-7v-6h3z" fill="#20b0a8"/><path d="M36 6h2v9h-5v-4h3z" fill="#c8b0b0"/>
<rect x="34" y="12" width="1" height="1" fill="#fff"/><rect x="36" y="12" width="2" height="1" fill="#fff"/><rect x="34" y="14" width="1" height="1" fill="#fff"/><rect x="36" y="14" width="1" height="1" fill="#fff"/>
<rect x="29" y="5" width="5" height="3" fill="#8090a8"/><rect x="30" y="6" width="3" height="1" fill="#fff"/>
</g>
</svg>
</body></html>
